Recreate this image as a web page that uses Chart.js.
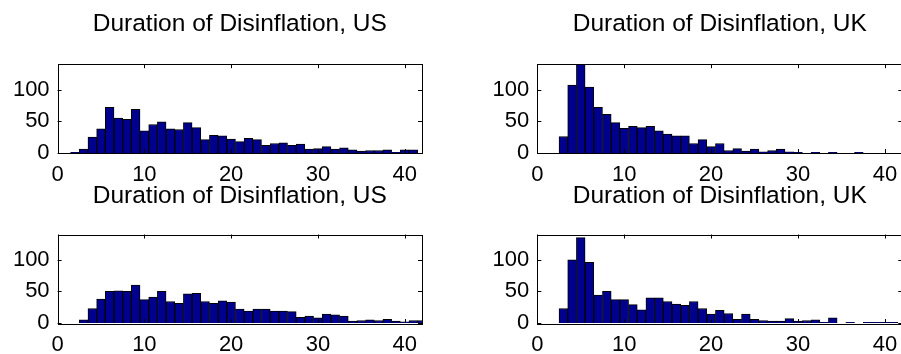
<!DOCTYPE html>
<html>
<head>
<meta charset="utf-8">
<script src="https://cdn.jsdelivr.net/npm/chart.js@4.4.1/dist/chart.umd.min.js"></script>
<style>
    html, body { margin: 0; padding: 0; background: #fff; overflow: hidden; width: 901px; height: 354px; }
    canvas { position: absolute; }
</style>
</head>
<body>
<canvas id="usTop" width="450" height="193" style="left:0px;top:0px"></canvas>
<canvas id="ukTop" width="480" height="193" style="left:450px;top:0px"></canvas>
<canvas id="usBottom" width="450" height="193" style="left:0px;top:170px"></canvas>
<canvas id="ukBottom" width="480" height="193" style="left:450px;top:170px"></canvas>
<script>
// histogram bins (duration, quarters)
var bins = [1, 2, 3, 4, 5, 6, 7, 8, 9, 10, 11, 12, 13, 14, 15, 16, 17, 18, 19, 20, 21,
            22, 23, 24, 25, 26, 27, 28, 29, 30, 31, 32, 33, 34, 35, 36, 37, 38, 39, 40, 41, 42];

var usTopCounts = [0, 1, 6, 25, 38, 72, 55, 53, 69, 35, 45, 49, 38, 37, 48, 40, 21, 28, 27, 22, 18,
                   23, 21, 12, 15, 16, 12, 14, 6, 7, 10, 6, 8, 5, 3, 4, 4, 5, 1, 5, 5, 0];
var ukTopCounts = [0, 0, 26, 107, 140, 104, 72, 61, 48, 39, 42, 40, 42, 35, 30, 27, 27, 15, 21, 10, 15,
                   4, 7, 3, 6, 2, 4, 6, 2, 1, 0, 1, 0, 1, 0, 0, 1, 0, 0, 0, 0, 0];
var usBottomCounts = [0, 0, 5, 23, 38, 50, 51, 50, 60, 37, 41, 50, 34, 31, 46, 47, 34, 31, 35, 33, 22,
                      19, 22, 22, 19, 19, 18, 9, 11, 8, 14, 13, 11, 3, 4, 5, 4, 6, 3, 2, 4, 4];
var ukBottomCounts = [0, 0, 23, 100, 135, 96, 44, 50, 37, 37, 29, 21, 40, 40, 34, 30, 28, 34, 23, 14, 20,
                      15, 6, 14, 6, 4, 3, 3, 7, 3, 4, 5, 1, 8, 0, 1, 0, 1, 1, 1, 1, 0];

var xTicks = [0, 10, 20, 30, 40];
var yTicks = [0, 50, 100];
var titleUS = 'Duration of Disinflation, US';
var titleUK = 'Duration of Disinflation, UK';

var FONT = '"Liberation Sans", Arial, sans-serif';

// box round the plot + inward tick marks, like matlab axes
var framePlugin = {
    id: 'frame',
    afterDatasetsDraw: function (chart) {
        var ctx = chart.ctx;
        var a = chart.chartArea;
        var xs = chart.scales.x;
        var ys = chart.scales.y;
        var len = 4;
        ctx.save();
        ctx.strokeStyle = '#000';
        ctx.lineWidth = 1;
        ctx.beginPath();
        xs.ticks.forEach(function (t) {
            var px = Math.round(xs.getPixelForValue(t.value)) + 0.5;
            ctx.moveTo(px, a.top);
            ctx.lineTo(px, a.top + len);
            ctx.moveTo(px, a.bottom);
            ctx.lineTo(px, a.bottom - len);
        });
        ys.ticks.forEach(function (t) {
            var py = Math.round(ys.getPixelForValue(t.value)) + 0.5;
            ctx.moveTo(a.left, py);
            ctx.lineTo(a.left + len, py);
            ctx.moveTo(a.right, py);
            ctx.lineTo(a.right - len, py);
        });
        ctx.stroke();
        ctx.strokeRect(Math.round(a.left) + 0.5, Math.round(a.top) + 0.5,
                       Math.round(a.right - a.left), Math.round(a.bottom - a.top));
        ctx.restore();
    }
};

function makeHist(id, title, counts, yWidth, padRight, titlePad) {
    var pts = [];
    for (var i = 0; i < bins.length; i++) {
        pts.push({ x: bins[i], y: counts[i] });
    }
    var ctx = document.getElementById(id).getContext('2d');
    return new Chart(ctx, {
        type: 'bar',
        data: {
            datasets: [{
                data: pts,
                backgroundColor: '#00008F',
                borderColor: '#000',
                borderWidth: 1,
                barPercentage: 1,
                categoryPercentage: 1,
                clip: 0
            }]
        },
        options: {
            responsive: false,
            animation: false,
            devicePixelRatio: 1,
            layout: { padding: { left: 0, right: padRight, top: 0, bottom: 0 } },
            plugins: {
                legend: { display: false },
                tooltip: { enabled: false },
                title: {
                    display: true,
                    text: title,
                    fullSize: false,
                    color: '#000',
                    font: { family: FONT, size: 24.5, weight: 'normal', lineHeight: 1.2 },
                    padding: { top: titlePad[0], bottom: titlePad[1] }
                }
            },
            scales: {
                x: {
                    type: 'linear',
                    min: 0,
                    max: 42,
                    offset: false,
                    grid: { display: false, drawTicks: false },
                    border: { display: false },
                    ticks: {
                        color: '#000',
                        padding: 9,
                        maxRotation: 0,
                        autoSkip: false,
                        font: { family: FONT, size: 22, lineHeight: 1.2 }
                    },
                    afterBuildTicks: function (scale) {
                        scale.ticks = xTicks.map(function (v) { return { value: v }; });
                    },
                    afterFit: function (scale) { scale.height = 40; }
                },
                y: {
                    min: 0,
                    max: 140,
                    grid: { display: false, drawTicks: false },
                    border: { display: false },
                    ticks: {
                        color: '#000',
                        padding: 8,
                        font: { family: FONT, size: 22, lineHeight: 1.2 }
                    },
                    afterBuildTicks: function (scale) {
                        scale.ticks = yTicks.map(function (v) { return { value: v }; });
                    },
                    afterFit: function (scale) { scale.width = yWidth; }
                }
            }
        },
        plugins: [framePlugin]
    });
}

makeHist('usTop', titleUS, usTopCounts, 57.6, 28, [9.8, 25.0]);
makeHist('ukTop', titleUK, ukTopCounts, 87.3, 27.7, [9.8, 25.0]);
makeHist('usBottom', titleUS, usBottomCounts, 57.6, 28, [11.3, 23.8]);
makeHist('ukBottom', titleUK, ukBottomCounts, 87.3, 27.7, [11.3, 23.8]);
</script>
</body>
</html>
